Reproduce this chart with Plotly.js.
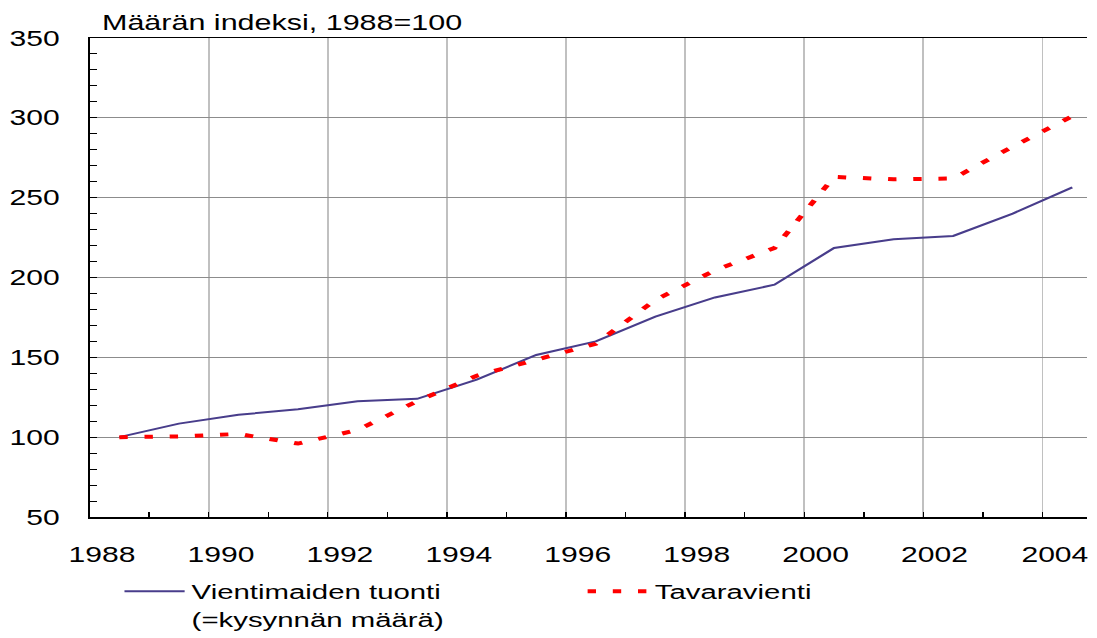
<!DOCTYPE html>
<html>
<head>
<meta charset="utf-8">
<script src="https://cdn.plot.ly/plotly-3.0.1.min.js"></script>
<style>
  html, body { margin: 0; padding: 0; overflow: hidden; background: #fff; }
  /* the reference chart is stretched sideways, so draw narrow and scale in x */
  #plot { width: 784px; height: 638px; transform: scaleX(1.3992); transform-origin: 0 0; }
</style>
</head>
<body>
<div id="plot"></div>
<script>
// Years 1988-2004, values plotted at mid-year
const years = [1988, 1989, 1990, 1991, 1992, 1993, 1994, 1995, 1996,
               1997, 1998, 1999, 2000, 2001, 2002, 2003, 2004];

// Vientimaiden tuonti (=kysynnän määrä), 1988=100
const demand = [100, 108.5, 114, 117.5, 122.5, 124, 136, 151.5, 160,
                175.5, 187.5, 195.5, 218.5, 224, 226, 240, 256.5];

// Tavaravienti, 1988=100
const exports = [100, 100.5, 102, 96, 104.5, 122.5, 138.5, 148.5, 158.5,
                 186, 204.5, 218.5, 263, 261.5, 262, 282, 301];

// x tick labels (sit a little right of their gridlines in the original)
const labelYears = [1988, 1990, 1992, 1994, 1996, 1998, 2000, 2002, 2004];

const xMid = years.map(y => y + 0.5);

const font = 'Liberation Sans, Arial, sans-serif';

const trace1 = {
    x: xMid,
    y: demand,
    type: 'scatter',
    mode: 'lines',
    name: 'Vientimaiden tuonti<br>(=kysynnän määrä)',
    line: { color: '#483D8B', width: 2 }
};

const trace2 = {
    x: xMid,
    y: exports,
    type: 'scatter',
    mode: 'lines',
    name: 'Tavaravienti',
    line: { color: '#FF0000', width: 4, dash: '6px,12px' }
};

// year labels under the x axis
const yearLabels = labelYears.map(y => ({
    text: String(y),
    x: y + 0.2, xref: 'x', xanchor: 'center',
    y: 0, yref: 'paper', yanchor: 'top', yshift: -24,
    showarrow: false,
    font: { family: font, size: 21.5, color: '#000000' }
}));

const layout = {
    width: 784,
    height: 638,
    margin: { l: 64, r: 7, t: 38, b: 121, autoexpand: false },
    paper_bgcolor: '#ffffff',
    plot_bgcolor: '#ffffff',
    font: { family: font, size: 21, color: '#000000' },
    title: {
        text: 'Määrän indeksi, 1988=100',
        font: { family: font, size: 21.8, color: '#000000' },
        xref: 'container', yref: 'container',
        x: 0.093, xanchor: 'left',
        y: 0.965, yanchor: 'middle'
    },
    showlegend: true,
    legend: {
        orientation: 'h',
        x: 0.028, xanchor: 'left',
        y: -0.113, yanchor: 'top',
        valign: 'top',
        itemwidth: 43,
        entrywidth: 273,
        font: { family: font, size: 21, color: '#000000' },
        bgcolor: 'rgba(0,0,0,0)'
    },
    annotations: yearLabels,
    xaxis: {
        range: [1988, 2004.75],
        tick0: 1988,
        dtick: 2,
        ticks: 'inside',
        ticklen: 5,
        tickcolor: '#000000',
        showticklabels: false,
        showgrid: true,
        gridcolor: '#c0c0c0',
        gridwidth: 1.4,
        zeroline: false,
        showline: true,
        linecolor: '#000000',
        linewidth: 1.5,
        mirror: true,
        minor: { dtick: 1, ticks: 'inside', ticklen: 5, tickcolor: '#000000', showgrid: false },
        fixedrange: true
    },
    yaxis: {
        range: [50, 350],
        tick0: 50,
        dtick: 50,
        ticks: 'inside',
        ticklen: 5,
        tickcolor: '#000000',
        ticklabelstandoff: 16,
        showgrid: true,
        gridcolor: '#8c8c8c',
        gridwidth: 1,
        zeroline: false,
        showline: true,
        linecolor: '#000000',
        linewidth: 1,
        minor: { dtick: 10, ticks: 'inside', ticklen: 5, tickcolor: '#000000', showgrid: false },
        tickfont: { family: font, size: 21.5, color: '#000000' },
        fixedrange: true
    }
};

Plotly.newPlot('plot', [trace1, trace2], layout, { displayModeBar: false, staticPlot: true });
</script>
</body>
</html>
